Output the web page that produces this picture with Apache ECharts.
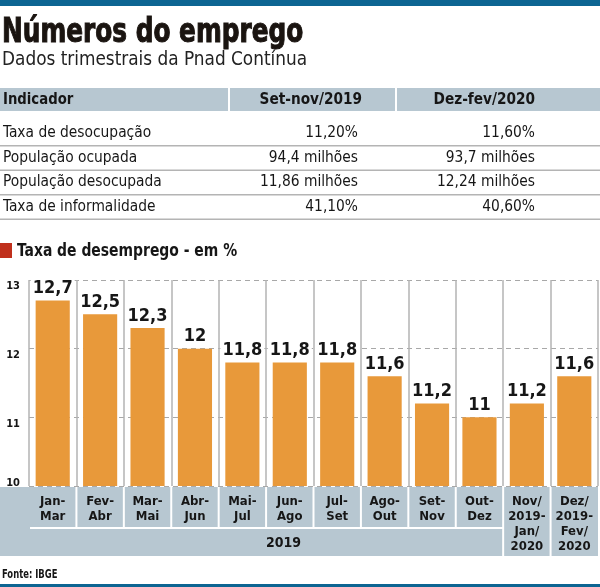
<!DOCTYPE html>
<html><head><meta charset="utf-8">
<script src="https://cdn.jsdelivr.net/npm/echarts@6/dist/echarts.min.js"></script>
<style>html,body{margin:0;padding:0;background:#fff}#c{width:600px;height:587px}</style>
</head><body><div id="c"></div>
<script>
const categories = ['Jan-\nMar','Fev-\nAbr','Mar-\nMai','Abr-\nJun','Mai-\nJul','Jun-\nAgo','Jul-\nSet','Ago-\nOut','Set-\nNov','Out-\nDez','Nov/\n2019-\nJan/\n2020','Dez/\n2019-\nFev/\n2020'];
const values = [12.7,12.5,12.3,12,11.8,11.8,11.8,11.6,11.2,11,11.2,11.6];
const yearLabel = '2019';
const yearLastIndex = 9;
const yMin = 10, yMax = 13, yInterval = 1;
const tableHeader = ['Indicador','Set-nov/2019','Dez-fev/2020'];
const tableIndicators = ['Taxa de desocupação','População ocupada','População desocupada','Taxa de informalidade'];
const tableCol1 = ['11,20%','94,4 milhões','11,86 milhões','41,10%'];
const tableCol2 = ['11,60%','93,7 milhões','12,24 milhões','40,60%'];
const titleText = 'Números do emprego';
const subtitleText = 'Dados trimestrais da Pnad Contínua';
const sectionText = 'Taxa de desemprego - em %';
const sourceText = 'Fonte: IBGE';

const FC = '"Liberation Sans Narrow","DejaVu Sans Condensed","Roboto Condensed",Roboto,sans-serif';
const BLUE = '#0d6592', BAND = '#b7c7d1', ORANGE = '#e8993a', INK = '#161616';

const chart = echarts.init(document.getElementById('c'), null, {renderer: 'canvas'});

function staticGraphics() {
  const g = [];
  g.push({type:'rect', shape:{x:0,y:0,width:600,height:6}, style:{fill:BLUE}});
  g.push({type:'rect', shape:{x:0,y:584,width:600,height:3}, style:{fill:BLUE}});
  g.push({type:'text', x:2, y:33, scaleX:0.835, style:{text:titleText, font:'bold 33px '+FC, fill:'#1a1410', stroke:'#1a1410', lineWidth:1, textVerticalAlign:'middle'}});
  g.push({type:'text', x:2, y:60, scaleX:0.94, style:{text:subtitleText, font:'20px '+FC, fill:'#222', textVerticalAlign:'middle'}});
  // table header
  g.push({type:'rect', shape:{x:0,y:88,width:600,height:23}, style:{fill:BAND}});
  g.push({type:'rect', shape:{x:228,y:88,width:2,height:23}, style:{fill:'#fff'}});
  g.push({type:'rect', shape:{x:395,y:88,width:2,height:23}, style:{fill:'#fff'}});
  g.push({type:'text', x:3, y:100, scaleX:0.92, style:{text:tableHeader[0], font:'bold 16px '+FC, fill:INK, textVerticalAlign:'middle'}});
  g.push({type:'text', x:362, y:100, scaleX:0.95, style:{text:tableHeader[1], font:'bold 16px '+FC, fill:INK, textAlign:'right', textVerticalAlign:'middle'}});
  g.push({type:'text', x:535, y:100, scaleX:0.95, style:{text:tableHeader[2], font:'bold 16px '+FC, fill:INK, textAlign:'right', textVerticalAlign:'middle'}});
  tableIndicators.forEach((t,i) => {
    const y = 133 + i*24.5;
    g.push({type:'text', x:3, y:y, scaleX:0.96, style:{text:t, font:'16px '+FC, fill:INK, textVerticalAlign:'middle'}});
    g.push({type:'text', x:358, y:y, scaleX:0.96, style:{text:tableCol1[i], font:'16px '+FC, fill:INK, textAlign:'right', textVerticalAlign:'middle'}});
    g.push({type:'text', x:535, y:y, scaleX:0.96, style:{text:tableCol2[i], font:'16px '+FC, fill:INK, textAlign:'right', textVerticalAlign:'middle'}});
    g.push({type:'rect', shape:{x:0,y:y+12,width:600,height:1.5}, style:{fill:'#b4b4b4'}});
  });
  g.push({type:'rect', shape:{x:0,y:243,width:12,height:15}, style:{fill:'#c0301c'}});
  g.push({type:'text', x:17, y:251, scaleX:0.86, style:{text:sectionText, font:'bold 18px '+FC, fill:INK, textVerticalAlign:'middle'}});
  g.push({type:'text', x:2, y:575, scaleX:0.78, style:{text:sourceText, font:'bold 12px '+FC, fill:INK, textVerticalAlign:'middle'}});
  // band
  g.push({type:'rect', z:-10, shape:{x:0,y:487,width:598,height:69}, style:{fill:BAND}});
  return g;
}

const option = {
  animation: false,
  grid: {left:29, right:2, top:280, bottom:101, containLabel:false},
  xAxis: {
    type:'category', data:categories, z:10,
    axisLine:{show:false}, axisTick:{show:false},
    splitLine:{show:true, interval:0, lineStyle:{color:'#b3b3b3', width:1.5}},
    axisLabel:{interval:0, margin:8, fontFamily:FC, fontWeight:'bold', fontSize:13, lineHeight:15, color:INK, verticalAlign:'top'}
  },
  yAxis: {
    type:'value', min:yMin, max:yMax, interval:yInterval,
    axisLine:{show:false}, axisTick:{show:false},
    splitLine:{show:true, lineStyle:{color:'#a8a8a8', type:[5,4], width:1}},
    axisLabel:{margin:9, color:INK,
      formatter: v => (v === yMin ? '{b|' + v + '}' : '{a|' + v + '}'),
      rich:{
        a:{fontFamily:FC, fontWeight:'bold', fontSize:11, color:INK, padding:[13,0,0,0]},
        b:{fontFamily:FC, fontWeight:'bold', fontSize:11, color:INK, padding:[0,0,6,0]}
      }}
  },
  series: [{
    type:'bar', data:values, barWidth:'72%', itemStyle:{color:ORANGE},
    label:{show:true, position:'top', distance:3, formatter:p=>String(p.value).replace('.',','),
      fontFamily:FC, fontWeight:'bold', fontSize:18, color:INK, backgroundColor:'#fff', padding:[1,2,0,2]}
  }],
  graphic: staticGraphics()
};
chart.setOption(option);

// band separators derived from axis scale
const c0 = chart.convertToPixel({xAxisIndex:0}, 0);
const c1 = chart.convertToPixel({xAxisIndex:0}, 1);
const bw = c1 - c0;
const extra = [];
for (let i = 0; i < categories.length - 1; i++) {
  const bx = chart.convertToPixel({xAxisIndex:0}, i) + bw/2;
  const full = i >= yearLastIndex;
  extra.push({type:'rect', z:-5, shape:{x:bx-1, y:487, width:2, height: full ? 69 : 40}, style:{fill:'#fff'}});
}
const leftEdge = c0 - bw/2;
const groupRight = chart.convertToPixel({xAxisIndex:0}, yearLastIndex) + bw/2;
extra.push({type:'rect', z:-5, shape:{x:leftEdge+1, y:527, width:groupRight-leftEdge-1, height:2}, style:{fill:'#fff'}});
extra.push({type:'text', z:10, x:(leftEdge+groupRight)/2, y:543, style:{text:yearLabel, font:'bold 14px '+FC, fill:INK, textAlign:'left', textVerticalAlign:'middle'}});
chart.setOption({graphic: staticGraphics().concat(extra)}, {replaceMerge:['graphic']});
</script></body></html>
